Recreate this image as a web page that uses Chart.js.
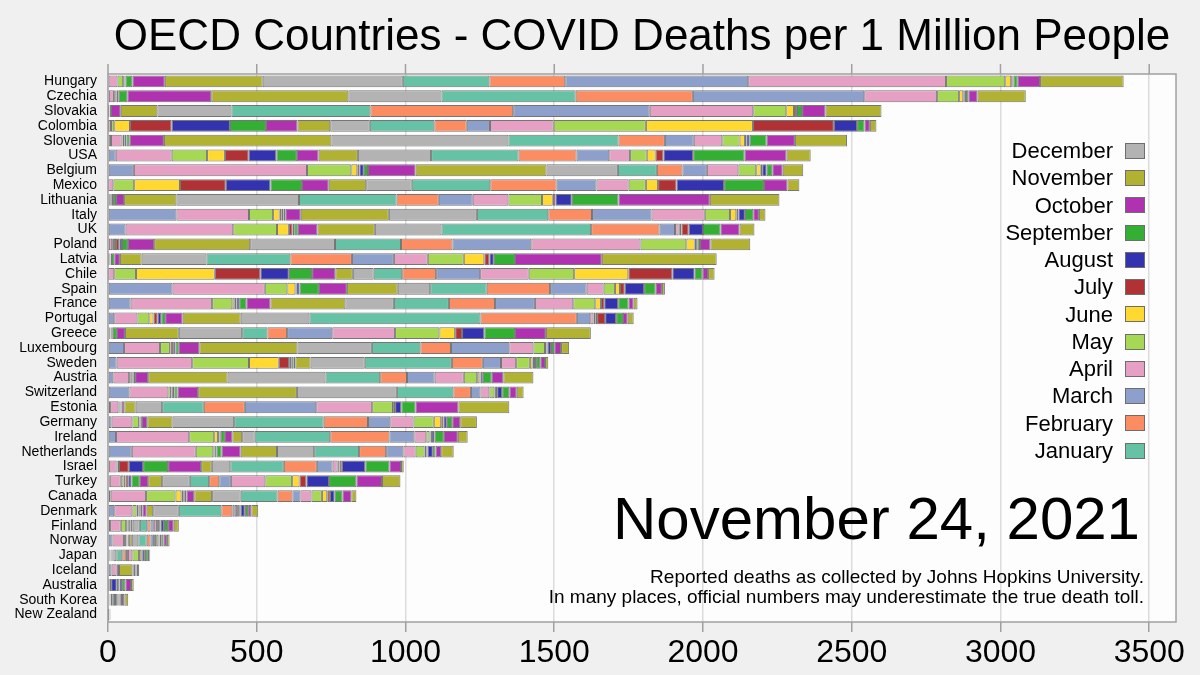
<!DOCTYPE html>
<html>
<head>
<meta charset="utf-8">
<script src="https://cdn.jsdelivr.net/npm/chart.js@4.4.1/dist/chart.umd.min.js"></script>
<style>
  html, body { margin: 0; padding: 0; background: #f0f0f0; }
  #wrap { position: relative; width: 1200px; height: 675px; font-family: "Liberation Sans", Arial, sans-serif; color: #000; }
  .txt { position: absolute; white-space: nowrap; line-height: 1; }
  .box { position: absolute; width: 18px; height: 14px; border: 1px solid #6e6e6e; }
</style>
</head>
<body>
<div id="wrap">
  <canvas id="deathsChart" width="1200" height="675"></canvas>
  <div class="txt" style="left:0;width:1284px;text-align:center;top:13px;font-size:44px;">OECD Countries - COVID Deaths per 1 Million People</div>
  <div id="legend"></div>
  <div class="txt" style="right:60px;top:489px;font-size:60px;">November 24, 2021</div>
  <div class="txt" style="right:56px;top:567px;font-size:19px;">Reported deaths as collected by Johns Hopkins University.</div>
  <div class="txt" style="right:56px;top:587px;font-size:19px;">In many places, official numbers may underestimate the true death toll.</div>
</div>
<script>
// deaths per million, one value per month from Jan 2020 to Nov 2021 (to Nov 24)
var countries = ['Hungary', 'Czechia', 'Slovakia', 'Colombia', 'Slovenia', 'USA', 'Belgium', 'Mexico', 'Lithuania', 'Italy',
  'UK', 'Poland', 'Latvia', 'Chile', 'Spain', 'France', 'Portugal', 'Greece', 'Luxembourg', 'Sweden',
  'Austria', 'Switzerland', 'Estonia', 'Germany', 'Ireland', 'Netherlands', 'Israel', 'Turkey', 'Canada', 'Denmark',
  'Finland', 'Norway', 'Japan', 'Iceland', 'Australia', 'South Korea', 'New Zealand'];

var monthNames = ['January', 'February', 'March', 'April', 'May', 'June', 'July', 'August', 'September', 'October', 'November', 'December'];
var monthColors = ['#66c2a5', '#fc8d62', '#8da0cb', '#e6a0c4', '#a6d854', '#ffd92f', '#b03235', '#3333b0', '#33b033', '#b032b0', '#b2b232', '#b3b3b3'];
var xTicks = [0, 500, 1000, 1500, 2000, 2500, 3000, 3500];

var hungary     = [0,0,2,30,19,4,2,2,23,109,329,471,291,255,615,665,199,20,5,3,14,75,281];
var czechia     = [0,0,3,17,3,3,3,7,29,282,461,313,451,394,576,245,74,14,5,4,8,31,162];
var slovakia    = [0,0,0.5,4,1,0.3,0.5,0.7,3,33,123,249,467,480,459,348,111,26,7,3,17,79,188];
var colombia    = [0,0,0.5,9.5,11,53,140,196,121,106,110,133,217,109,78,214,310,360,272,78,25,18,22];
var slovenia    = [0,0,10,36,2,2,5,7,11,115,563,595,370,156,97,96,58,18,5,11,57,95,175];
var usa         = [0,0,26,188,119,60,80,93,69,73,132,246,294,195,110,70,56,30,26,100,173,141,81];
var belgium     = [0,0,87,582,149,20,7,15,14,160,440,240,131,86,82,106,60,15,5,15,19,35,69];
var mexico      = [0,0,1,17,70,154,154,150,106,90,126,153,264,223,134,108,58,41,62,160,134,79,40];
var lithuania   = [0,0,2,4,3,2,2.5,3.5,10,27,176,412,328,142,114,120,113,36,9,55,157,307,234];
var italy       = [0,0,230,244,81,22,7,6,6,52,296,296,240,147,200,179,85,21,7,22,28,19,22];
var uk          = [0,0,59,362,147,40,12,6,12,66,193,224,503,230,52,12,4,6,24,48,59,64,50];
var poland      = [0,0,3,11,6,7,11,9,20,88,323,285,222,173,265,367,154,28,5,4,9,35,134];
var latvia      = [0,0,1,4,2,1,1,1,11,19,73,218,282,207,141,114,121,69,17,15,71,292,386];
var chile       = [0,0,1,20,73,265,153,96,78,78,59,70,96,114,148,163,153,182,148,75,26,19,22];
var spain       = [0,0,217,310,76,27,3,11,65,94,171,109,190,213,123,57,38,17,16,65,39,21,10];
var france      = [0,0,76,274,68,8,6,9,24,81,252,163,185,155,134,129,74,19,11,47,35,17,13];
var portugal    = [0,0,21,78,40,14,14,12,13,59,195,231,575,324,45,11,6,6,27,37,23,16,20];
var greece      = [0,0,6,2,1,1,1,5,14,27,181,213,85,66,152,211,149,53,23,75,103,104,151];
var luxembourg  = [0,0,54,121,33,2,9,8,11,69,330,250,163,103,196,81,39,5,4,11,11,23,27];
var sweden      = [0,0,29,254,191,100,35,7,8,6,51,182,293,104,61,51,46,9,5,7,14,16,11];
var austria     = [0,0,18,53,4,3,4,3,6,44,267,329,184,90,93,98,45,8,3,8,30,39,101];
var switzerland = [0,0,72,131,9,2,4,5,11,69,332,336,190,59,32,30,17,5,4,17,24,25,23];
var estonia     = [0,0,7,28,4,2,2,1,2,9,38,89,140,138,240,188,70,3,4,21,48,144,171];
var germany     = [0,0,12,70,22,2,3,2,3,18,85,207,301,149,75,78,68,25,8,11,18,27,56];
var ireland     = [0,0,27,246,84,13,5,4,14,25,33,42,254,199,84,40,11,3,5,9,31,47,33];
var netherlands = [0,0,80,215,59,4,2,5,17,64,122,125,151,91,58,41,30,6,4,18,9,19,42];
var israel      = [0,0,3,26,3,5,33,48,84,111,36,62,180,111,53,17,4,2,8,79,81,39,9];
var turkey      = [0,0,6,37,9,7,9,11,28,28,47,93,65,34,39,116,90,25,23,76,92,86,62];
var canada      = [0,0,9,119,99,20,6,5,6,26,60,96,124,50,27,37,35,18,9,16,26,30,17];
var denmark     = [0,0,21,61,14,6,3,5,6,14,22,86,143,37,8,8,6,3,3,14,11,11,23];
var finland     = [0,0,7,36,18,3,2,2,3,5,7,24,25,11,11,11,7,3,2,11,14,19,17];
var norway      = [0,0,15,39,7,2,1,1,1,4,10,22,28,13,12,7,8,2,2,5,8,11,9];
var japan       = [0,0,2,3,2,1,1,2,2,2,3,10,20,12,7,15,22,8,3,9,10,5,3];
var iceland     = [0,0,12,17,0,0,0,0,0,8,45,2,1,0,0,0,0,0,0,7,4,5,4];
var australia   = [0,0,1,3,0.3,0.2,6,19,7,0.5,0.5,0.5,0.3,0.1,0,0,0,0,0,9,11,19,9];
var southKorea  = [0,0,3,2,0.3,0.3,0.4,0.5,1.5,1,1,6,7.5,3.5,3,2.5,2.5,2,2,4,4,8,13];
var newZealand  = [0,0,0.2,3.5,0.6,0,0,0,0.2,0,0,0,0,0.2,0,0,0,0,0.4,0.8,1,1,1];

var rows = [hungary, czechia, slovakia, colombia, slovenia, usa, belgium, mexico, lithuania, italy,
  uk, poland, latvia, chile, spain, france, portugal, greece, luxembourg, sweden,
  austria, switzerland, estonia, germany, ireland, netherlands, israel, turkey, canada, denmark,
  finland, norway, japan, iceland, australia, southKorea, newZealand];

var fontFamily = '"Liberation Sans", Arial, sans-serif';

// one dataset per month, Jan 2020 .. Nov 2021
var datasets = [];
for (var m = 0; m < 23; m++) {
    datasets.push({
        label: monthNames[m % 12] + ' ' + (2020 + Math.floor(m / 12)),
        data: rows.map(function (r) { return r[m]; }),
        backgroundColor: monthColors[m % 12],
        borderColor: 'rgba(60, 60, 60, 0.7)',
        borderWidth: 1,
        borderSkipped: false,
        barPercentage: 0.8,
        categoryPercentage: 1
    });
}

// legend, December on top
var legendEl = document.getElementById('legend');
for (var i = 0; i < 12; i++) {
    var mi = 11 - i;
    var cy = 150.7 + i * 27.27;
    var lab = document.createElement('div');
    lab.className = 'txt';
    lab.style.cssText = 'right:87px;top:' + (cy - 10.7) + 'px;font-size:22px;';
    lab.textContent = monthNames[mi];
    legendEl.appendChild(lab);
    var box = document.createElement('div');
    box.className = 'box';
    box.style.cssText = 'left:1125px;top:' + (cy - 8) + 'px;background:' + monthColors[mi] + ';';
    legendEl.appendChild(box);
}

var plotFrame = {
    id: 'plotFrame',
    beforeDraw: function (chart) {
        var a = chart.chartArea, c = chart.ctx;
        c.save();
        c.fillStyle = '#fdfdfd';
        c.fillRect(a.left, a.top, a.right - a.left, a.bottom - a.top);
        c.restore();
    },
    afterDraw: function (chart) {
        var a = chart.chartArea, c = chart.ctx, xs = chart.scales.x;
        c.save();
        c.strokeStyle = '#a0a0a0';
        c.lineWidth = 1.5;
        c.strokeRect(a.left, a.top, a.right - a.left, a.bottom - a.top);
        c.beginPath();
        xTicks.forEach(function (v) {
            var px = xs.getPixelForValue(v);
            c.moveTo(px, a.top - 10);
            c.lineTo(px, a.top);
        });
        c.stroke();
        c.restore();
    }
};

var ctx = document.getElementById('deathsChart').getContext('2d');
var deathsChart = new Chart(ctx, {
    type: 'bar',
    data: {
        labels: countries,
        datasets: datasets
    },
    options: {
        indexAxis: 'y',
        responsive: false,
        animation: false,
        layout: { padding: { top: 74, right: 24, left: 0, bottom: 0 } },
        plugins: {
            legend: { display: false },
            tooltip: { enabled: false }
        },
        scales: {
            x: {
                stacked: true,
                min: 0,
                max: 3590,
                afterBuildTicks: function (s) { s.ticks = xTicks.map(function (v) { return { value: v }; }); },
                afterFit: function (s) { s.height = 53; },
                ticks: {
                    color: '#000',
                    font: { size: 32, family: fontFamily },
                    padding: 2,
                    maxRotation: 0,
                    autoSkip: false,
                    callback: function (value) { return String(value); }
                },
                grid: { color: '#dcdcdc', tickColor: '#a0a0a0', tickLength: 10, lineWidth: 1.5 },
                border: { display: false }
            },
            y: {
                stacked: true,
                afterFit: function (s) { s.width = 108; },
                ticks: { color: '#000', font: { size: 14, family: fontFamily }, padding: 3, autoSkip: false },
                grid: { display: false },
                border: { display: false }
            }
        }
    },
    plugins: [plotFrame]
});
</script>
</body>
</html>
